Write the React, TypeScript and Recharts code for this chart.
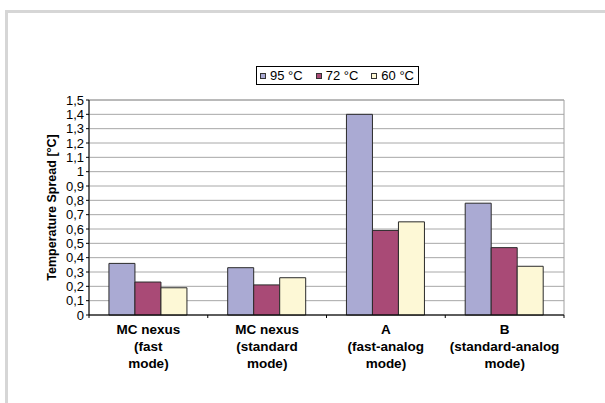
import React from "react"
import { BarChart, Bar, XAxis, YAxis, CartesianGrid, ReferenceArea } from "recharts"

const categories = [
  ["MC nexus", "(fast", "mode)"],
  ["MC nexus", "(standard", "mode)"],
  ["A", "(fast-analog", "mode)"],
  ["B", "(standard-analog", "mode)"],
]
const spread95 = [0.36, 0.33, 1.4, 0.78]
const spread72 = [0.23, 0.21, 0.59, 0.47]
const spread60 = [0.19, 0.26, 0.65, 0.34]
const yTicks = [0, 0.1, 0.2, 0.3, 0.4, 0.5, 0.6, 0.7, 0.8, 0.9, 1, 1.1, 1.2, 1.3, 1.4, 1.5]

const series = [
  { key: "t95", name: "95 °C", color: "#aaaad3" },
  { key: "t72", name: "72 °C", color: "#a94a76" },
  { key: "t60", name: "60 °C", color: "#fdf8d6" },
]

const data = categories.map((lines, i) => ({
  id: String(i),
  lines,
  t95: spread95[i],
  t72: spread72[i],
  t60: spread60[i],
}))

const W = 605
const H = 403
const PLOT_LEFT = 89
const PLOT_RIGHT = 564
const PLOT_TOP = 100
const PLOT_BOTTOM = 315
const HALF_BAND = (PLOT_RIGHT - PLOT_LEFT) / categories.length / 2

const font = "'Liberation Sans', Arial, sans-serif"

function CategoryTick(props: any) {
  const { x, payload, index } = props
  const y = PLOT_BOTTOM
  const lines = data[Number(payload.value)].lines
  const last = index === categories.length - 1
  return (
    <g>
      <line x1={x - HALF_BAND} y1={y} x2={x - HALF_BAND} y2={y + 3} stroke="#000" />
      {last && <line x1={x + HALF_BAND} y1={y} x2={x + HALF_BAND} y2={y + 3} stroke="#000" />}
      <text x={x} y={y} textAnchor="middle" fontFamily={font} fontSize={13.5} fontWeight="bold" fill="#000">
        {lines.map((l: string, k: number) => (
          <tspan key={k} x={x} dy={k === 0 ? 19 : 17}>{l}</tspan>
        ))}
      </text>
    </g>
  )
}

function LegendBox() {
  return (
    <div style={{ position: "absolute", left: 256, top: 66, display: "flex", alignItems: "center", border: "1px solid #000", background: "#fff", padding: "0 4px 0 3px", height: 17, fontFamily: font, fontSize: 13, color: "#000", whiteSpace: "nowrap" }}>
      {series.map((s, i) => (
        <span key={s.key} style={{ display: "flex", alignItems: "center", marginLeft: i === 0 ? 0 : 13 }}>
          <span style={{ boxSizing: "border-box", width: 6, height: 6, background: s.color, border: "1px solid #333", marginRight: 4 }} />
          {s.name}
        </span>
      ))}
    </div>
  )
}

export default function App() {
  return (
    <div style={{ position: "absolute", left: 0, top: 0, width: W, height: H, background: "#fff", overflow: "hidden" }}>
      <div style={{ position: "absolute", left: 5, top: 10, right: -10, bottom: -10, borderLeft: "3px solid #d6d6d6", borderTop: "3px solid #d6d6d6" }} />
      <div style={{ position: "absolute", left: 0, top: 0 }}>
        <BarChart
          width={W}
          height={H}
          data={data}
          margin={{ top: PLOT_TOP, right: W - PLOT_RIGHT, left: 30, bottom: 0 }}
          barCategoryGap="16.8%"
          barGap={0}
        >
          <CartesianGrid vertical={false} stroke="#a8a8a8" />
          <ReferenceArea y1={0} y2={1.5} stroke="#a0a0a0" fill="none" strokeWidth={1} ifOverflow="visible" />
          <XAxis
            dataKey="id"
            height={H - PLOT_BOTTOM}
            axisLine={{ stroke: "#000" }}
            tickLine={false}
            tick={<CategoryTick />}
            interval={0}
          />
          <YAxis
            width={PLOT_LEFT - 30}
            domain={[0, 1.5]}
            ticks={yTicks}
            interval={0}
            axisLine={{ stroke: "#000" }}
            tickLine={{ stroke: "#000" }}
            tickSize={3}
            tickMargin={2}
            tick={{ fontFamily: font, fontSize: 13, fill: "#000" }}
            tickFormatter={(v: number) => String(v).replace(".", ",")}
            label={{
              value: "Temperature Spread [°C]",
              angle: -90,
              position: "insideLeft",
              offset: 22,
              style: { fontFamily: font, fontSize: 12.5, fontWeight: "bold", fill: "#000", textAnchor: "middle" },
            }}
          />
          {series.map((s) => (
            <Bar key={s.key} dataKey={s.key} name={s.name} fill={s.color} stroke="#2a2a2a" strokeWidth={1} isAnimationActive={false} />
          ))}
        </BarChart>
      </div>
      <LegendBox />
    </div>
  )
}
